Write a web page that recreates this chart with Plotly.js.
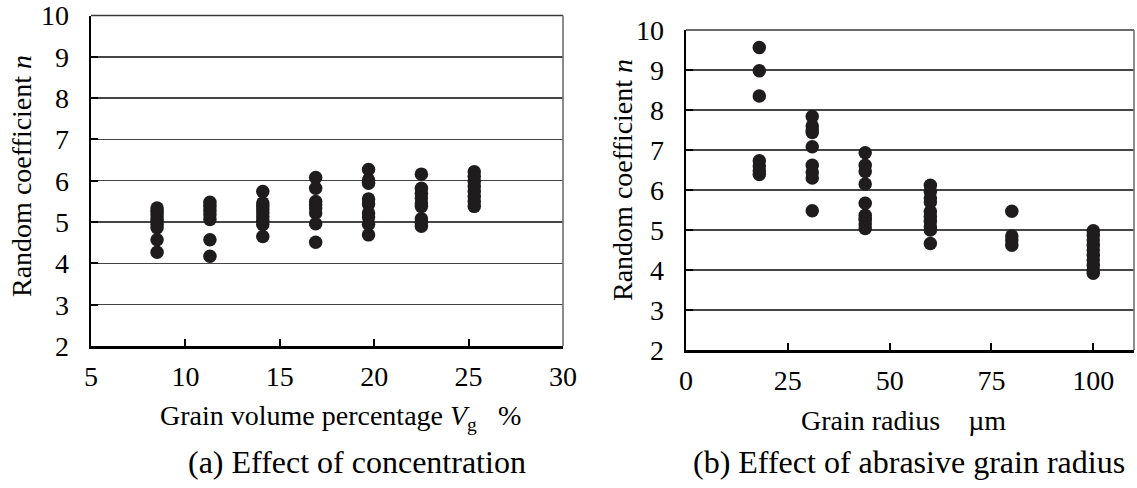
<!DOCTYPE html>
<html>
<head>
<meta charset="utf-8">
<script src="https://cdn.plot.ly/plotly-3.0.1.min.js"></script>
<style>html,body{margin:0;padding:0;background:#fff}#chart{width:1137px;height:488px}</style>
</head>
<body>
<div id="chart"></div>
<script>
// (a) Effect of concentration: grain volume percentage Vg (%) -> random coefficient n
const concX = [8.5, 11.3, 14.1, 16.9, 19.7, 22.5, 25.3];
const concN = [
  [5.34, 5.26, 5.18, 5.10, 5.02, 4.94, 4.86, 4.57, 4.27],
  [5.48, 5.38, 5.28, 5.18, 5.06, 4.57, 4.17],
  [5.74, 5.46, 5.38, 5.30, 5.22, 5.13, 5.04, 4.94, 4.65],
  [6.08, 5.82, 5.50, 5.42, 5.34, 5.22, 4.96, 4.51],
  [6.27, 6.02, 5.94, 5.56, 5.44, 5.22, 5.12, 4.95, 4.69],
  [6.16, 5.82, 5.70, 5.58, 5.46, 5.38, 5.08, 4.98, 4.90],
  [6.22, 6.10, 5.98, 5.86, 5.74, 5.62, 5.50, 5.38]
];
// (b) Effect of abrasive grain radius: grain radius (um) -> random coefficient n
const radiusX = [18, 31, 44, 60, 80, 100];
const radiusN = [
  [9.56, 8.98, 8.35, 6.73, 6.60, 6.48, 6.39],
  [7.84, 7.60, 7.50, 7.44, 7.08, 6.62, 6.44, 6.30, 5.48],
  [6.93, 6.62, 6.46, 6.15, 5.67, 5.37, 5.30, 5.25, 5.15, 5.04],
  [6.12, 5.96, 5.80, 5.70, 5.46, 5.34, 5.22, 5.08, 5.00, 4.66],
  [5.47, 4.85, 4.75, 4.62],
  [4.98, 4.87, 4.75, 4.62, 4.50, 4.37, 4.25, 4.12, 4.00, 3.92]
];
const concTicks = [5, 10, 15, 20, 25, 30];
const radiusTicks = [0, 25, 50, 75, 100];
const nTicks = [2, 3, 4, 5, 6, 7, 8, 9, 10];

function flatten(xs, ys) {
  const X = [], Y = [];
  xs.forEach((x, i) => ys[i].forEach(v => { X.push(x); Y.push(v); }));
  return {X, Y};
}
const a = flatten(concX, concN);
const b = flatten(radiusX, radiusN);

const FONT = 'Liberation Serif, Times New Roman, serif';
const marker = {size: 13.5, color: '#1e1c1d', line: {width: 0}};

const traces = [
  {type: 'scatter', mode: 'markers', x: a.X, y: a.Y, xaxis: 'x', yaxis: 'y', marker: marker, hoverinfo: 'x+y'},
  {type: 'scatter', mode: 'markers', x: b.X, y: b.Y, xaxis: 'x2', yaxis: 'y2', marker: marker, hoverinfo: 'x+y'}
];

function xax(domain, range, ticks, anchor) {
  return {
    domain: domain, range: range, anchor: anchor, tickvals: ticks, ticktext: ticks.map(String),
    showgrid: false, zeroline: false, showline: true, linecolor: '#000', linewidth: 2.5,
    ticks: 'inside', ticklen: 7, tickwidth: 2, tickcolor: '#000',
    tickfont: {family: FONT, size: 28, color: '#000'}, ticklabelstandoff: 4,
    ticklabeloverflow: 'allow', fixedrange: true
  };
}
function yax(domain, anchor) {
  return {
    domain: domain, range: [2, 10], anchor: anchor, tickvals: nTicks, ticktext: nTicks.map(String),
    showgrid: true, gridcolor: '#454545', gridwidth: 1.4, zeroline: false,
    showline: true, linecolor: '#000', linewidth: 2.5,
    ticks: 'inside', ticklen: 7, tickwidth: 2, tickcolor: '#000',
    tickfont: {family: FONT, size: 28, color: '#000'}, ticklabelstandoff: 14,
    ticklabeloverflow: 'allow', fixedrange: true
  };
}

const W = 1137, H = 488;
const px = v => v / W, py = v => (H - v) / H;

const layout = {
  width: W, height: H,
  margin: {l: 0, r: 0, t: 0, b: 0},
  paper_bgcolor: '#fff', plot_bgcolor: '#fff',
  showlegend: false,
  font: {family: FONT, size: 28, color: '#000'},
  xaxis: xax([px(91), px(563)], [5, 30], concTicks, 'y'),
  yaxis: yax([py(346), py(15.5)], 'x'),
  xaxis2: xax([px(686), px(1134)], [0, 110], radiusTicks, 'y2'),
  yaxis2: yax([py(350), py(30)], 'x2'),
  shapes: [
    {type: 'line', xref: 'x domain', yref: 'y domain', x0: 0, x1: 1, y0: 1, y1: 1, line: {color: '#3a3a3a', width: 1.6}},
    {type: 'line', xref: 'x2 domain', yref: 'y2 domain', x0: 0, x1: 1, y0: 1, y1: 1, line: {color: '#3a3a3a', width: 1.6}},
    {type: 'line', xref: 'x domain', yref: 'y domain', x0: 1, x1: 1, y0: 0, y1: 1, line: {color: '#707070', width: 1.6}},
    {type: 'line', xref: 'x2 domain', yref: 'y2 domain', x0: 1, x1: 1, y0: 0, y1: 1, line: {color: '#707070', width: 1.6}}
  ],
  annotations: [
    {text: 'Random coefficient <i>n</i>', textangle: -90, xref: 'paper', yref: 'paper', x: px(22), y: py(176),
     xanchor: 'center', yanchor: 'middle', showarrow: false, font: {family: FONT, size: 28}},
    {text: 'Random coefficient <i>n</i>', textangle: -90, xref: 'paper', yref: 'paper', x: px(623), y: py(180),
     xanchor: 'center', yanchor: 'middle', showarrow: false, font: {family: FONT, size: 28}},
    {text: 'Grain volume percentage <i>V</i><sub>g</sub>\u00a0\u00a0\u00a0%', xref: 'paper', yref: 'paper', x: px(340), y: py(417),
     xanchor: 'center', yanchor: 'middle', showarrow: false, font: {family: FONT, size: 28}},
    {text: 'Grain radius\u00a0\u00a0\u00a0\u00a0µm', xref: 'paper', yref: 'paper', x: px(903), y: py(420),
     xanchor: 'center', yanchor: 'middle', showarrow: false, font: {family: FONT, size: 28}},
    {text: '(a) Effect of concentration', xref: 'paper', yref: 'paper', x: px(357), y: py(462),
     xanchor: 'center', yanchor: 'middle', showarrow: false, font: {family: FONT, size: 32}},
    {text: '(b) Effect of abrasive grain radius', xref: 'paper', yref: 'paper', x: px(909), y: py(462),
     xanchor: 'center', yanchor: 'middle', showarrow: false, font: {family: FONT, size: 32}}
  ]
};

Plotly.newPlot('chart', traces, layout, {displayModeBar: false, staticPlot: true});
</script>
</body>
</html>
